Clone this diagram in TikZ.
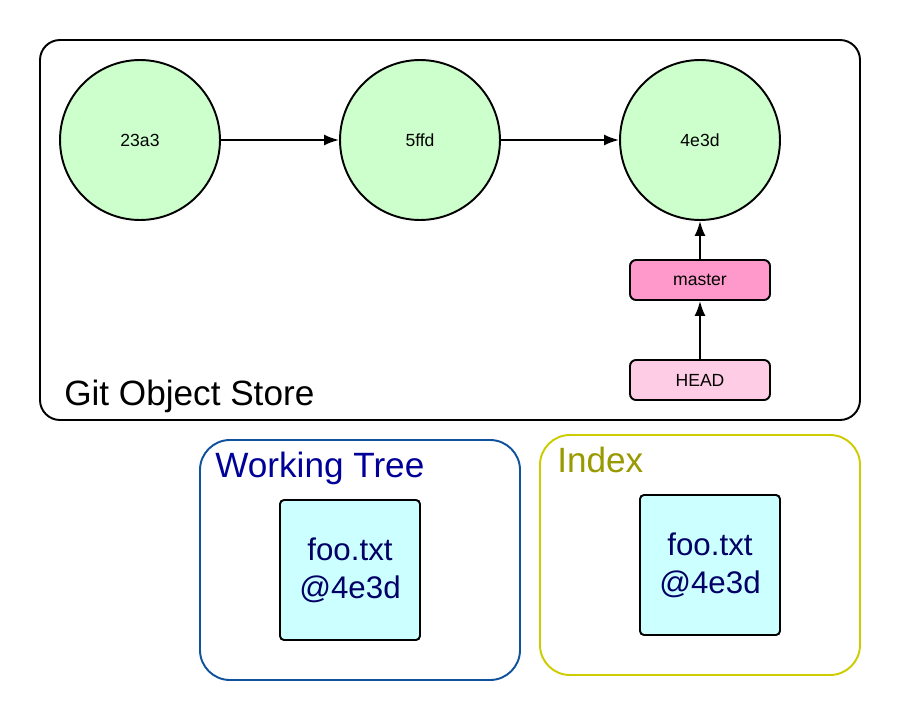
\documentclass[tikz,border=0pt]{standalone}
\usepackage{fontspec}
\setmainfont{Liberation Sans}
\usepackage{xcolor}
\usetikzlibrary{arrows.meta}
\definecolor{commitgreen}{HTML}{CCFFCC}
\definecolor{masterpink}{HTML}{FF99CC}
\definecolor{headpink}{HTML}{FFCCE6}
\definecolor{filecyan}{HTML}{CCFFFF}
\definecolor{treeblue}{HTML}{11529E}
\definecolor{treetitle}{HTML}{000099}
\definecolor{filetext}{HTML}{000066}
\definecolor{indexolive}{HTML}{CCCC00}
\definecolor{indextitle}{HTML}{999900}

\tikzset{
    commit/.style={circle, draw=black, line width=1.1pt, fill=commitgreen,
        minimum size=3.2cm, inner sep=0pt, font=\fontsize{10}{12}\selectfont},
    refbox/.style={draw=black, line width=1.1pt, rounded corners=1.2mm,
        minimum width=2.8cm, minimum height=0.8cm, inner sep=0pt,
        font=\fontsize{10}{12}\selectfont},
    filebox/.style={draw=black, line width=1.1pt, rounded corners=0.8mm, fill=filecyan,
        minimum width=2.8cm, minimum height=2.8cm, inner sep=0pt, align=center,
        text=filetext, font=\fontsize{17.8}{21.5}\selectfont},
    areatitle/.style={anchor=base west, inner sep=0pt, font=\fontsize{20}{24}\selectfont},
    link/.style={line width=1.1pt, -{Latex[length=3mm,width=2.2mm]}}
}

\begin{document}
\begin{tikzpicture}[x=0.02cm, y=-0.02cm]
    \useasboundingbox (0,0) rectangle (900,720);

    % Git Object Store
    \draw[line width=1.1pt, rounded corners=4mm] (40,40) rectangle (860,420);
    \node[areatitle] (storetitle) at (64,405) {Git Object Store};

    % commits
    \node[commit] (c23a3) at (140,140) {23a3};
    \node[commit] (c5ffd) at (420,140) {5ffd};
    \node[commit] (c4e3d) at (700,140) {4e3d};
    \draw[link] (c23a3) -- (c5ffd);
    \draw[link] (c5ffd) -- (c4e3d);

    % refs
    \node[refbox, fill=masterpink] (master) at (700,280) {master};
    \node[refbox, fill=headpink] (head) at (700,380) {HEAD};
    \draw[link] (master) -- (c4e3d);
    \draw[link] (head) -- (master);

    % Working Tree
    \draw[draw=treeblue, line width=1.1pt, rounded corners=6mm] (200,440) rectangle (520,680);
    \node[areatitle, text=treetitle] (treetitle) at (215,477) {Working Tree};
    \node[filebox] (treefile) at (350,570) {foo.txt\\@4e3d};

    % Index
    \draw[draw=indexolive, line width=1.1pt, rounded corners=6mm] (540,435) rectangle (860,675);
    \node[areatitle, text=indextitle] (indextitle) at (557,472) {Index};
    \node[filebox] (indexfile) at (710,565) {foo.txt\\@4e3d};
\end{tikzpicture}
\end{document}
